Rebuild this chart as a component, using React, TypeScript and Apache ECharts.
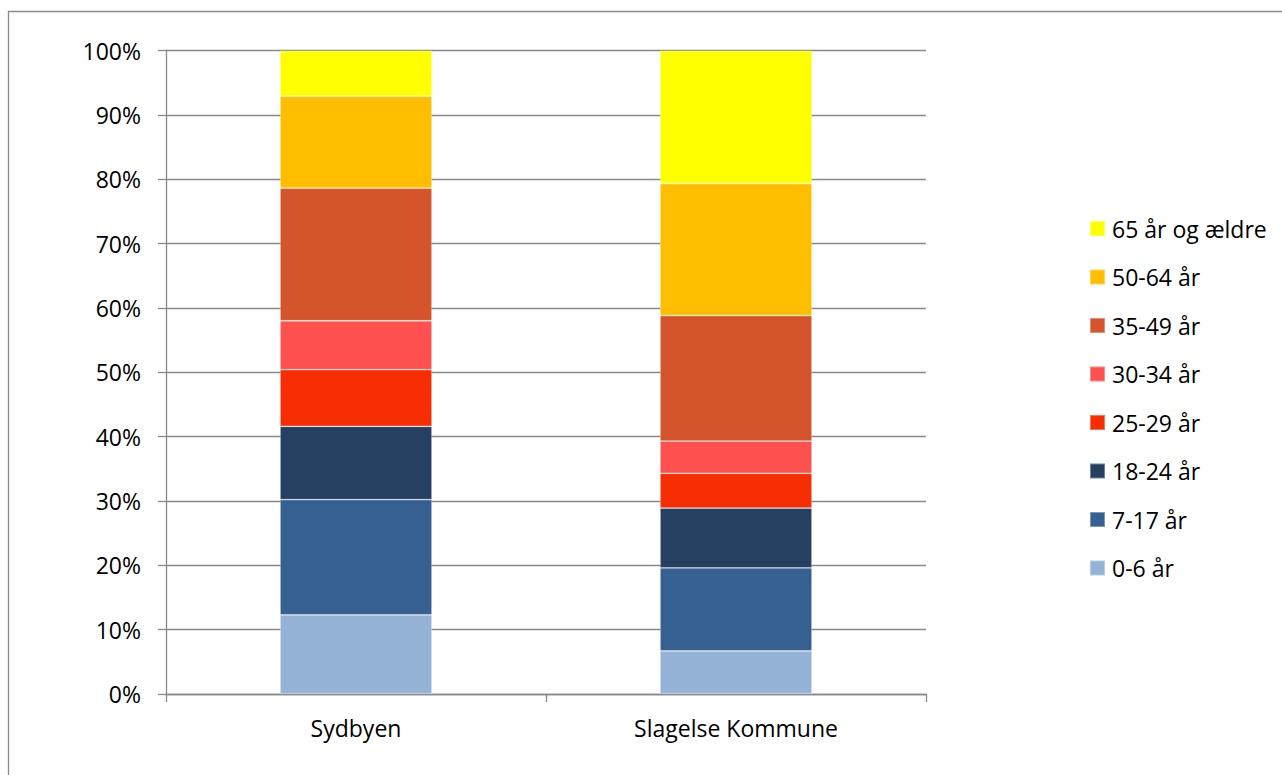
import React, { useEffect, useRef } from "react";
import * as echarts from "echarts";

const categories = ["Sydbyen", "Slagelse Kommune"];
const groups = [
  "0-6 år",
  "7-17 år",
  "18-24 år",
  "25-29 år",
  "30-34 år",
  "35-49 år",
  "50-64 år",
  "65 år og ældre",
];
const colors = [
  "#95B3D7",
  "#376092",
  "#264061",
  "#F72D03",
  "#FF5050",
  "#D4552B",
  "#FFBF00",
  "#FFFF00",
];
const sydbyen = [12.3, 17.9, 11.4, 8.8, 7.6, 20.6, 14.3, 7.1];
const slagelse = [6.7, 12.9, 9.3, 5.4, 5.0, 19.5, 20.5, 20.7];
const yTicks = [0, 10, 20, 30, 40, 50, 60, 70, 80, 90, 100];

const FONT = "'Open Sans', sans-serif";
const GRAY = "#888888";

export default function App() {
  const ref = useRef<HTMLDivElement>(null);
  useEffect(() => {
    if (!ref.current) return;
    const chart = echarts.init(ref.current, null, { renderer: "svg" });
    const series = groups.map((g, i) => ({
      name: g,
      type: "bar",
      stack: "total",
      barWidth: 152,
      data: [sydbyen[i], slagelse[i]],
      itemStyle: {
        color: colors[i],
        borderColor: "rgba(255,255,255,0.35)",
        borderWidth: 0.8,
      },
    }));
    chart.setOption({
      animation: false,
      backgroundColor: "#ffffff",
      textStyle: { fontFamily: FONT },
      graphic: [
        {
          type: "rect",
          shape: { x: 8.5, y: 11.5, width: 1400, height: 900 },
          style: { fill: "none", stroke: "#8a8a8a", lineWidth: 1.3 },
          silent: true,
        },
      ],
      grid: { left: 166, right: 356, top: 50.5, bottom: 81 },
      legend: {
        orient: "vertical",
        left: 1084,
        top: 212,
        itemWidth: 15,
        itemHeight: 15,
        itemGap: 25.5,
        icon: "rect",
        data: [...groups].reverse(),
        textStyle: {
          fontFamily: FONT,
          fontSize: 23,
          color: "#000",
          padding: [0, 0, 0, 2],
        },
        selectedMode: false,
      },
      xAxis: {
        type: "category",
        data: categories,
        axisLine: { show: true, lineStyle: { color: GRAY, width: 1.3 } },
        axisTick: { show: true, length: 8, lineStyle: { color: GRAY, width: 1.3 } },
        axisLabel: { fontFamily: FONT, fontSize: 23, color: "#000", margin: 22 },
      },
      yAxis: {
        type: "value",
        min: yTicks[0],
        max: yTicks[yTicks.length - 1],
        interval: 10,
        axisLine: { show: true, lineStyle: { color: GRAY, width: 1.3 } },
        axisTick: { show: true, length: 8, lineStyle: { color: GRAY, width: 1.3 } },
        splitLine: { show: true, lineStyle: { color: GRAY, width: 1.3 } },
        axisLabel: {
          fontFamily: FONT,
          fontSize: 23,
          color: "#000",
          margin: 25,
          formatter: "{value}%",
        },
      },
      series,
    });
    return () => chart.dispose();
  }, []);
  return (
    <div
      ref={ref}
      style={{ position: "absolute", left: 0, top: 0, width: 1282, height: 775 }}
    />
  );
}
